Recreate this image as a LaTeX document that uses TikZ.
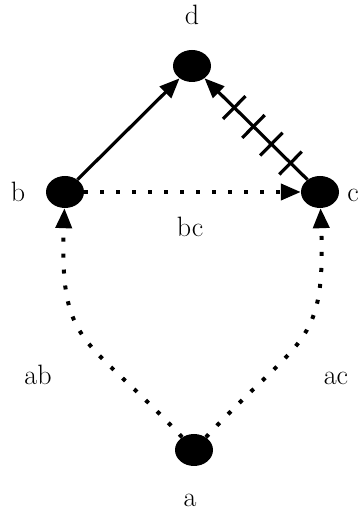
\documentclass[tikz,border=0pt]{standalone}
\usepackage{fontspec}
\setmainfont{Latin Modern Roman}
\usetikzlibrary{positioning, arrows.meta, shapes.geometric, calc}

\begin{document}
\begin{tikzpicture}[x=1pt, y=1pt,
    sommet/.style={ellipse, fill=black, minimum width=38pt, minimum height=32pt, inner sep=0pt},
    etiq/.style={font=\fontsize{28}{32}\selectfont, anchor=base, inner sep=0pt},
    fleche/.style={line width=3.2pt, -{Triangle[length=20pt, width=16pt]}},
    pointille/.style={line width=4pt, dash pattern=on 4pt off 12pt},
    trait/.style={line width=3.2pt}]
  \useasboundingbox (0,0) rectangle (359,513);

  % --- sommets ------------------------------------------------------------
  \node[sommet] (a) at (194,63) {};
  \node[sommet] (b) at (65,321) {};
  \node[sommet] (c) at (320,321) {};
  \node[sommet] (d) at (192,447) {};

  % --- noms des sommets ---------------------------------------------------
  \node[etiq] (la) at (190,6) {a};
  \node[etiq] (lb) at (18,311) {b};
  \node[etiq, anchor=base east] (lc) at (359,311) {c};
  \node[etiq] (ld) at (192,488) {d};

  % --- arcs ---------------------------------------------------------------
  \draw[fleche] (b) -- (d);
  \draw[fleche] (c) -- (d);
  \draw[fleche, pointille] (b) -- (c);
  \draw[fleche, pointille] (a) to[out=133, in=268, looseness=1.4] (b);
  \draw[fleche, pointille] (a) to[out=47, in=272, looseness=1.4] (c);

  % --- hachures sur c-d ---------------------------------------------------
  \foreach \t in {0.23,0.38,0.52,0.67}
    \draw[trait] ($(c)!\t!(d)!16pt!90:(d)$) -- ($(c)!\t!(d)!16pt!-90:(d)$);

  % --- noms des arcs ------------------------------------------------------
  \node[etiq] (lbc) at (190,276) {bc};
  \node[etiq] (lab) at (38,128) {ab};
  \node[etiq] (lac) at (336,128) {ac};
\end{tikzpicture}
\end{document}
